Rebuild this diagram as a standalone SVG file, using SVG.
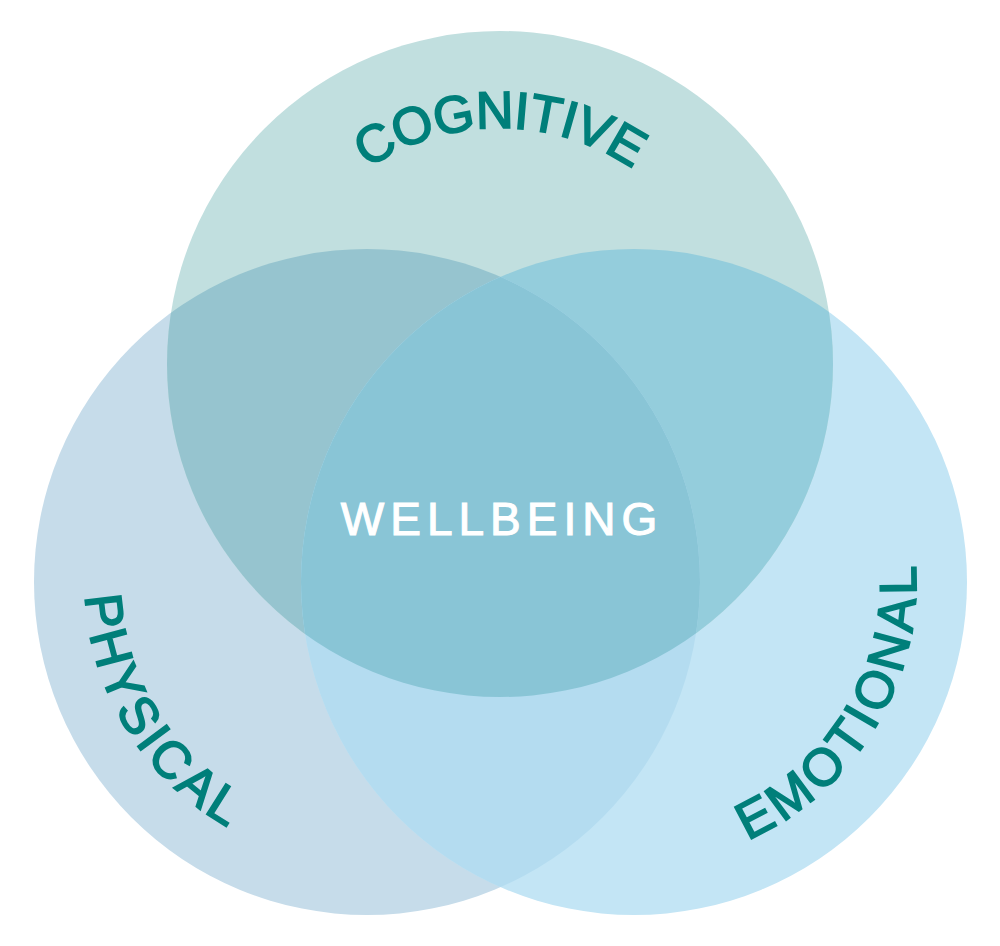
<svg xmlns="http://www.w3.org/2000/svg" xmlns:xlink="http://www.w3.org/1999/xlink" width="1000" height="946" viewBox="0 0 1000 946">
<style>
.lbl{font-family:"Liberation Sans",Arial,sans-serif;font-size:52px;fill:#007f7a;stroke:#007f7a;stroke-width:1.8px}
.ctr{font-family:"Liberation Sans",Arial,sans-serif;font-size:46px;fill:#ffffff;stroke:#ffffff;stroke-width:1.1px;letter-spacing:6px}
</style>
<defs>
<clipPath id="cTop"><circle cx="500" cy="364" r="333"/></clipPath>
<clipPath id="cLeft"><circle cx="367" cy="582" r="333"/></clipPath>
<clipPath id="cRight"><circle cx="634" cy="582" r="333"/></clipPath>
<path id="pCog" d="M295.6,246 A236,236 0 0 1 704.4,246"/>
<path id="pPhy" d="M92.4,518.6 A282,282 0 0 0 303.6,856.8"/>
<path id="pEmo" d="M702.2,855.6 A282,282 0 0 0 907.6,513.8"/>
</defs>
<rect width="1000" height="946" fill="#ffffff"/>
<g id="physical">
<circle cx="367" cy="582" r="333" fill="#c6dcea"/>
</g>
<g id="emotional">
<circle cx="634" cy="582" r="333" fill="#c3e5f5"/>
</g>
<g id="cognitive">
<circle cx="500" cy="364" r="333" fill="#c1dfdf"/>
</g>
<g id="overlaps">
<circle cx="367" cy="582" r="333" fill="#96c4cf" clip-path="url(#cTop)"/>
<circle cx="634" cy="582" r="333" fill="#94cddc" clip-path="url(#cTop)"/>
<circle cx="634" cy="582" r="333" fill="#b4dcf0" clip-path="url(#cLeft)"/>
</g>
<g id="wellbeing">
<g clip-path="url(#cTop)"><circle cx="634" cy="582" r="333" fill="#89c5d6" clip-path="url(#cLeft)"/></g>
<text class="ctr" x="502" y="535" text-anchor="middle">WELLBEING</text>
</g>
<g id="labels">
<text class="lbl" letter-spacing="-0.5"><textPath href="#pCog" xlink:href="#pCog" startOffset="50%" text-anchor="middle">COGNITIVE</textPath></text>
<text class="lbl" letter-spacing="3.7"><textPath href="#pPhy" xlink:href="#pPhy" startOffset="50%" text-anchor="middle">PHYSICAL</textPath></text>
<text class="lbl" letter-spacing="4.5"><textPath href="#pEmo" xlink:href="#pEmo" startOffset="50%" text-anchor="middle">EMOTIONAL</textPath></text>
</g>
<g id="connectors"></g>
</svg>
